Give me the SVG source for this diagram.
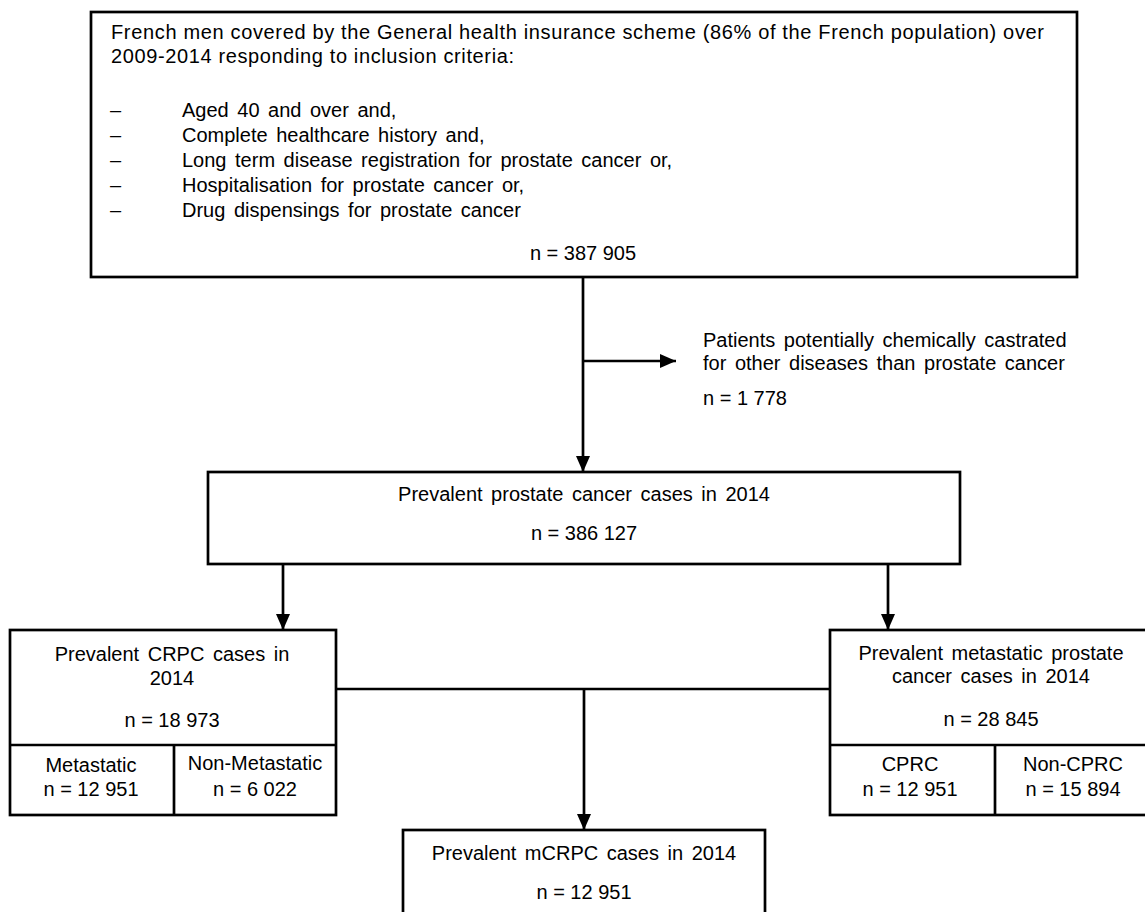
<svg xmlns="http://www.w3.org/2000/svg" width="1145" height="912" viewBox="0 0 1145 912">
<style>
.box{fill:#fff;stroke:#000;stroke-width:2.7}
.ln{fill:none;stroke:#000;stroke-width:2.7}
text{font-family:"Liberation Sans",Arial,sans-serif;font-size:20px;fill:#000;word-spacing:3px}
.c{text-anchor:middle}
.n{word-spacing:0}
</style>
<defs>
<marker id="arr" markerUnits="userSpaceOnUse" markerWidth="17" markerHeight="15" refX="16" refY="7" orient="auto">
<path d="M0,0 L16,7 L0,14 z" fill="#000"/>
</marker>
</defs>
<rect width="1145" height="912" fill="#fff"/>
<g id="connectors">
<line class="ln" x1="583" y1="277" x2="583" y2="472" marker-end="url(#arr)"/>
<line class="ln" x1="583" y1="361" x2="676" y2="361" marker-end="url(#arr)"/>
<line class="ln" x1="283" y1="564" x2="283" y2="630" marker-end="url(#arr)"/>
<line class="ln" x1="888" y1="564" x2="888" y2="630" marker-end="url(#arr)"/>
<line class="ln" x1="336" y1="689" x2="830" y2="689"/>
<line class="ln" x1="584" y1="689" x2="584" y2="830" marker-end="url(#arr)"/>
</g>
<g id="node-population">
<rect class="box" x="91" y="12" width="986" height="265"/>
<text class="n" x="111" y="39" textLength="933" lengthAdjust="spacing">French men covered by the General health insurance scheme (86% of the French population) over</text>
<text class="n" x="111" y="63" textLength="403" lengthAdjust="spacing">2009-2014  responding to inclusion criteria:</text>
<text x="110" y="117">–</text><text x="182" y="117">Aged 40 and over and,</text>
<text x="110" y="142">–</text><text x="182" y="142">Complete healthcare history and,</text>
<text x="110" y="167">–</text><text x="182" y="167">Long term disease registration for prostate cancer or,</text>
<text x="110" y="192">–</text><text x="182" y="192">Hospitalisation for prostate cancer or,</text>
<text x="110" y="217">–</text><text x="182" y="217">Drug dispensings for prostate cancer</text>
<text class="c n" x="583" y="260">n = 387 905</text>
</g>
<g id="node-excluded">
<text x="703" y="347">Patients potentially chemically castrated</text>
<text x="703" y="370">for other diseases than prostate cancer</text>
<text class="n" x="703" y="405">n = 1 778</text>
</g>
<g id="node-prevalent">
<rect class="box" x="208" y="472" width="752" height="92"/>
<text class="c" x="584" y="501">Prevalent prostate cancer cases in 2014</text>
<text class="c n" x="584" y="540">n = 386 127</text>
</g>
<g id="node-crpc">
<rect class="box" x="10" y="630" width="326" height="185"/>
<line class="ln" x1="10" y1="745" x2="336" y2="745"/>
<line class="ln" x1="174" y1="745" x2="174" y2="815"/>
<text class="c" x="172" y="661">Prevalent CRPC cases in</text>
<text class="c" x="172" y="685">2014</text>
<text class="c n" x="172" y="727">n = 18 973</text>
<text class="c" x="91" y="772">Metastatic</text>
<text class="c n" x="91" y="796">n = 12 951</text>
<text class="c" x="255" y="770">Non-Metastatic</text>
<text class="c n" x="255" y="796">n = 6 022</text>
</g>
<g id="node-metastatic">
<rect class="box" x="830" y="630" width="320" height="185"/>
<line class="ln" x1="830" y1="745" x2="1150" y2="745"/>
<line class="ln" x1="995" y1="745" x2="995" y2="815"/>
<text class="c" x="991" y="660">Prevalent metastatic prostate</text>
<text class="c" x="991" y="683">cancer cases in 2014</text>
<text class="c n" x="991" y="726">n = 28 845</text>
<text class="c" x="910" y="771">CPRC</text>
<text class="c n" x="910" y="796">n = 12 951</text>
<text class="c" x="1073" y="771">Non-CPRC</text>
<text class="c n" x="1073" y="796">n = 15 894</text>
</g>
<g id="node-mcrpc">
<rect class="box" x="403" y="830" width="362" height="100"/>
<text class="c" x="584" y="860">Prevalent mCRPC cases in 2014</text>
<text class="c n" x="584" y="899">n = 12 951</text>
</g>
</svg>
